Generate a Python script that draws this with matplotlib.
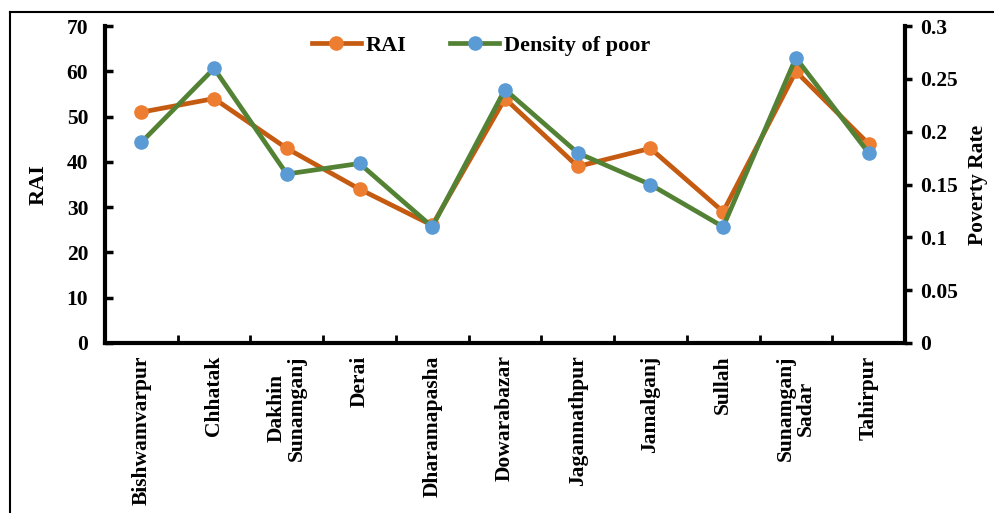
import numpy as np
import matplotlib.pyplot as plt
from matplotlib.lines import Line2D

### data
districts = ['Bishwamvarpur', 'Chhatak', 'Dakhin\nSunamganj', 'Derai', 'Dharamapasha',
             'Dowarabazar', 'Jagannathpur', 'Jamalganj', 'Sullah', 'Sunamganj\nSadar', 'Tahirpur']
rai = [51, 54, 43, 34, 26, 54, 39, 43, 29, 60, 44]
poverty = [0.19, 0.26, 0.16, 0.17, 0.11, 0.24, 0.18, 0.15, 0.11, 0.27, 0.18]

plt.rcParams['font.family'] = ['Liberation Serif', 'DejaVu Serif']
plt.rcParams['font.weight'] = 'bold'

fig = plt.figure(figsize=(9.95, 5.13), dpi=100)
ax1 = fig.add_axes([0.1055, 0.3314, 0.804, 0.6176])
ax2 = ax1.twinx()

x = np.arange(len(districts))
l1, = ax1.plot(x, rai, color='#C55A11', lw=3.4, marker='o', ms=9.5,
               mfc='#ED7D31', mec='#ED7D31', label='RAI', zorder=3)
l2, = ax2.plot(x, poverty, color='#548235', lw=3.4, marker='o', ms=9.5,
               mfc='#5B9BD5', mec='#5B9BD5', label='Density of poor', zorder=4)

ax1.set_xlim(-0.5, len(districts) - 0.5)
ax1.set_ylim(0, 70)
ax1.set_yticks(np.arange(0, 71, 10))
ax2.set_ylim(0, 0.3)
ax2.set_yticks([0, 0.05, 0.1, 0.15, 0.2, 0.25, 0.3])
ax2.set_yticklabels(['0', '0.05', '0.1', '0.15', '0.2', '0.25', '0.3'])

# category ticks sit between the points, labels under the points
ax1.set_xticks(np.arange(-0.5, len(districts), 1.0))
ax1.set_xticklabels([])
ax1.set_xticks(x, minor=True)
ax1.set_xticklabels(districts, minor=True, rotation=90, ha='center', va='top',
                    multialignment='center', fontsize=15.5, fontweight='bold',
                    linespacing=1.0)
ax1.tick_params(axis='x', which='minor', length=0, pad=9)
ax1.tick_params(axis='x', which='major', direction='in', length=6, width=2)

for a in (ax1, ax2):
    a.spines['top'].set_visible(False)
    a.spines['left'].set_linewidth(3)
    a.spines['right'].set_linewidth(3)
    a.spines['bottom'].set_linewidth(3)
ax1.spines['right'].set_visible(False)
ax2.spines['left'].set_visible(False)
ax2.spines['bottom'].set_visible(False)

ax1.tick_params(axis='y', direction='in', length=6, width=2.5, labelsize=15.5, pad=12)
ax2.tick_params(axis='y', direction='out', length=5, width=2.5, labelsize=15.5, pad=6)
for lab in ax1.get_yticklabels() + ax2.get_yticklabels():
    lab.set_fontweight('bold')

ax1.set_ylabel('RAI', fontsize=16, fontweight='bold', labelpad=13)
ax2.set_ylabel('Poverty Rate', fontsize=15.5, fontweight='bold', rotation=90, labelpad=7)

leg = ax1.legend(handles=[l1, l2], loc='upper center', bbox_to_anchor=(0.47, 1.035),
                 ncol=2, frameon=False, fontsize=16, handlelength=2.2,
                 handletextpad=0.2, columnspacing=2.0)
for t in leg.get_texts():
    t.set_fontweight('bold')

# outer frame of the picture (left and top edges visible)
fig.add_artist(Line2D([10/995, 10/995], [0, 1 - 12/513], color='black', lw=1.5,
                      transform=fig.transFigure))
fig.add_artist(Line2D([10/995, 1], [1 - 12/513, 1 - 12/513], color='black', lw=1.5,
                      transform=fig.transFigure))

plt.savefig('out.png', dpi=100)
